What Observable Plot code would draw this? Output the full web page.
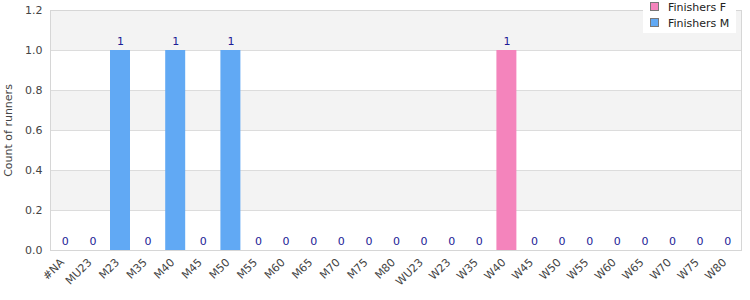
<!DOCTYPE html>
<html>
<head>
<meta charset="utf-8">
<script src="https://cdn.jsdelivr.net/npm/d3@7"></script>
<script src="https://cdn.jsdelivr.net/npm/@observablehq/plot@0.6"></script>
<style>
  html, body { margin: 0; padding: 0; background: #fff; }
  #wrap { position: relative; width: 750px; height: 300px; font-family: "DejaVu Sans", sans-serif; }
  #legend { position: absolute; left: 643px; top: 0px; width: 93px; height: 33px; background: #fff; font-size: 11px; color: #222; }
  .item { position: absolute; left: 7px; height: 14px; line-height: 14px; white-space: nowrap; }
  .sw { display: inline-block; width: 7px; height: 7px; border: 1px solid #777; vertical-align: 0px; margin-right: 9px; }
</style>
</head>
<body>
<div id="wrap"></div>
<script>
const categories = ["#NA","MU23","M23","M35","M40","M45","M50","M55","M60","M65","M70","M75","M80",
  "WU23","W23","W35","W40","W45","W50","W55","W60","W65","W70","W75","W80"];
const finishersF = [0,0,0,0,0,0,0,0,0,0,0,0,0, 0,0,0,1,0,0,0,0,0,0,0,0];
const finishersM = [0,0,1,0,1,0,1,0,0,0,0,0,0, 0,0,0,0,0,0,0,0,0,0,0,0];
const seriesNames = ["Finishers F", "Finishers M"];
const seriesColors = ["#f484bc", "#61a9f4"];
const yTicks = [0, 0.2, 0.4, 0.6, 0.8, 1.0, 1.2];

const rows = [];
categories.forEach((c, i) => {
  rows.push({cat: c, series: seriesNames[0], value: finishersF[i]});
  rows.push({cat: c, series: seriesNames[1], value: finishersM[i]});
});
const totals = categories.map((c, i) => ({cat: c, total: finishersF[i] + finishersM[i]}));
const bands = [];
for (let i = 0; i < yTicks.length - 1; i++) {
  if ((yTicks.length - 2 - i) % 2 === 0) bands.push({y1: yTicks[i], y2: yTicks[i + 1]});
}

const chart = Plot.plot({
  width: 750,
  height: 300,
  marginLeft: 50,
  marginRight: 9,
  marginTop: 10,
  marginBottom: 50,
  style: {fontFamily: "DejaVu Sans, sans-serif", fontSize: "11px", color: "#444", background: "#fff"},
  x: {domain: categories, paddingInner: 0.276, paddingOuter: 0.138, round: false, range: [51, 741]},
  y: {domain: [0, 1.2]},
  color: {domain: seriesNames, range: seriesColors},
  marks: [
    Plot.rect(bands, {y1: "y1", y2: "y2", fill: "#f3f3f3"}),
    Plot.gridY(yTicks, {stroke: "#dcdcdc", strokeOpacity: 1}),
    Plot.barY(rows, Plot.stackY({x: "cat", y: "value", fill: "series"})),
    Plot.text(totals, {x: "cat", y: "total", text: d => String(d.total), dy: -9, fill: "#1c1c96", fontSize: 11}),
    Plot.frame({stroke: "#d6d6d6"}),
    Plot.axisY({ticks: yTicks, tickFormat: d3.format(".1f"), tickSize: 0, tickPadding: 8,
      label: "Count of runners", labelAnchor: "center", labelArrow: "none", labelOffset: 46, fill: "#444"}),
    Plot.axisX({tickSize: 0, tickRotate: -45, tickPadding: 10, dx: -3, label: null, fill: "#444"})
  ]
});
document.getElementById("wrap").appendChild(chart);

const legend = document.createElement("div");
legend.id = "legend";
seriesNames.forEach((n, i) => {
  const it = document.createElement("div");
  it.className = "item";
  it.style.top = (1 + i * 16) + "px";
  it.innerHTML = `<span class="sw" style="background:${seriesColors[i]}"></span>${n}`;
  legend.appendChild(it);
});
document.getElementById("wrap").appendChild(legend);
</script>
</body>
</html>
